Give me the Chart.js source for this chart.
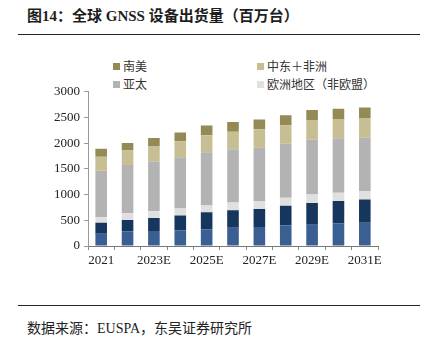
<!DOCTYPE html>
<html>
<head>
<meta charset="utf-8">
<script src="https://cdn.jsdelivr.net/npm/chart.js@4.4.0/dist/chart.umd.min.js"></script>
<style>
  body { margin: 0; width: 428px; height: 340px; background: #fff; position: relative; overflow: hidden;
         font-family: "Liberation Serif", "Noto Sans CJK SC", serif; }
  #title { position: absolute; left: 27px; top: 4px; font-size: 15px; font-weight: bold; color: #1e1e1e; }
  .rule { position: absolute; left: 18px; width: 402px; height: 0; border-top: 1.5px solid #222; }
  #source { position: absolute; left: 27px; top: 317px; font-size: 14px; color: #222; }
  #legend { position: absolute; left: 113px; top: 57px; width: 300px; font-size: 12px; color: #333; }
  .item { position: absolute; white-space: nowrap; }
  .box { display: inline-block; width: 7px; height: 7px; margin-right: 3px; vertical-align: 1px; }
  #wrap { position: absolute; left: 0; top: 80px; width: 428px; height: 200px; }
</style>
</head>
<body>
<div id="title">图14：全球 GNSS 设备出货量（百万台）</div>
<div class="rule" style="top:34px"></div>
<div id="legend"></div>
<div id="wrap"><canvas id="chart"></canvas></div>
<div class="rule" style="top:305px"></div>
<div id="source">数据来源：EUSPA，东吴证券研究所</div>
<script>
var years = ['2021', '2022', '2023E', '2024E', '2025E', '2026E', '2027E', '2028E', '2029E', '2030E', '2031E'];
var northAmerica = [240, 288, 294, 306, 325, 356, 369, 400, 412, 444, 450];
var eu = [210, 218, 250, 288, 331, 338, 350, 381, 426, 431, 456];
var europeNonEu = [110, 131, 131, 137, 144, 150, 156, 157, 162, 163, 163];
var asiaPacific = [905, 938, 962, 994, 1025, 1037, 1037, 1050, 1069, 1056, 1037];
var meAfrica = [270, 281, 300, 313, 331, 344, 357, 362, 375, 375, 382];
var southAmerica = [155, 150, 163, 170, 188, 188, 194, 194, 200, 200, 206];

var yTicks = [0, 500, 1000, 1500, 2000, 2500, 3000];

var datasets = [
  { label: '北美', data: northAmerica, backgroundColor: '#3a5f93' },
  { label: '欧盟', data: eu, backgroundColor: '#17365d' },
  { label: '欧洲地区（非欧盟）', data: europeNonEu, backgroundColor: '#e0e0e0' },
  { label: '亚太', data: asiaPacific, backgroundColor: '#b3b3b3' },
  { label: '中东＋非洲', data: meAfrica, backgroundColor: '#c7be94' },
  { label: '南美', data: southAmerica, backgroundColor: '#938a55' }
];
datasets.forEach(function (d) {
  d.barPercentage = 0.44;
  d.categoryPercentage = 1;
  d.borderWidth = 0;
});

// legend, two columns (only four series are shown in the original)
var legendOrder = ['南美', '中东＋非洲', '亚太', '欧洲地区（非欧盟）'];
var pos = [[0, 0], [144, 0], [0, 18], [144, 18]];
var lg = document.getElementById('legend');
legendOrder.forEach(function (name, i) {
  var ds = datasets.find(function (d) { return d.label === name; });
  var el = document.createElement('div');
  el.className = 'item';
  el.style.left = pos[i][0] + 'px';
  el.style.top = pos[i][1] + 'px';
  el.innerHTML = '<span class="box" style="background:' + ds.backgroundColor + '"></span>' + name;
  lg.appendChild(el);
});

var ctx = document.getElementById('chart').getContext('2d');
new Chart(ctx, {
  type: 'bar',
  data: { labels: years, datasets: datasets },
  options: {
    responsive: true,
    maintainAspectRatio: false,
    animation: false,
    layout: { padding: { top: 6, right: 50, bottom: 4, left: 0 } },
    plugins: { legend: { display: false }, tooltip: { enabled: false } },
    scales: {
      x: {
        stacked: true,
        grid: { display: true, drawOnChartArea: false, offset: true, tickLength: 4, color: '#888' },
        border: { color: '#777' },
        ticks: {
          color: '#222', font: { size: 13, family: 'Liberation Serif' }, maxRotation: 0, autoSkip: false,
          callback: function (v, i) { return i % 2 === 0 ? years[i] : ''; }
        },
        afterFit: function (s) { s.height = 30; }
      },
      y: {
        stacked: true,
        min: 0, max: 3000,
        afterBuildTicks: function (s) { s.ticks = yTicks.map(function (v) { return { value: v }; }); },
        grid: { display: true, drawOnChartArea: false, tickLength: 4, color: '#999' },
        border: { color: '#999' },
        ticks: {
          color: '#222', font: { size: 13, family: 'Liberation Serif' }, padding: 4,
          callback: function (v) { return String(v); }
        },
        afterFit: function (s) { s.width = 88; }
      }
    }
  }
});
</script>
</body>
</html>
